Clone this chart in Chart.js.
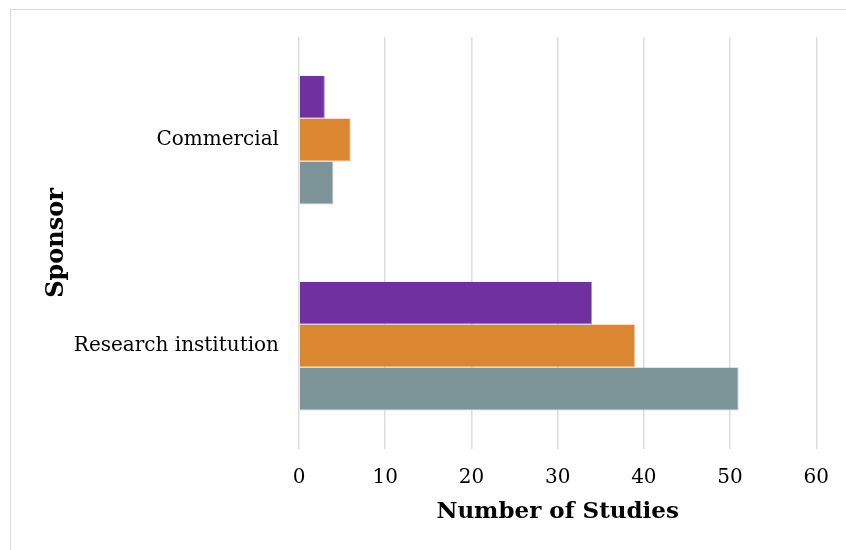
<!DOCTYPE html>
<html>
<head>
<meta charset="utf-8">
<script src="https://cdn.jsdelivr.net/npm/chart.js@4"></script>
<style>
  html, body { margin: 0; padding: 0; background: #fff; }
  #wrap { position: relative; width: 846px; height: 550px; overflow: hidden; }
  #frame { position: absolute; left: 10px; top: 9px; width: 860px; height: 560px; border: 1px solid #d9d9d9; }
  canvas { position: absolute; left: 0; top: 0; }
</style>
</head>
<body>
<div id="wrap">
  <div id="frame"></div>
  <canvas id="sponsorChart" width="846" height="550"></canvas>
</div>
<script>
// data kategori dan nilai per seri
const categories = ['Commercial', 'Research institution'];
const series1 = [3, 34];
const series2 = [6, 39];
const series3 = [4, 51];
const xTicks = [0, 10, 20, 30, 40, 50, 60];

const fontFamily = '"DejaVu Serif", "Liberation Serif", serif';

const ctx = document.getElementById('sponsorChart').getContext('2d');
new Chart(ctx, {
  type: 'bar',
  data: {
    labels: categories,
    datasets: [
      { label: 'Series 1', data: series1, backgroundColor: '#7030A0', borderColor: '#b48fd0', borderWidth: { right: 1, bottom: 1 } },
      { label: 'Series 2', data: series2, backgroundColor: '#DB8631', borderColor: '#efc39a', borderWidth: { right: 1, bottom: 1 } },
      { label: 'Series 3', data: series3, backgroundColor: '#7C9498', borderColor: '#c4d0d2', borderWidth: { right: 1, bottom: 1 } },
    ],
  },
  options: {
    indexAxis: 'y',
    responsive: false,
    animation: false,
    layout: { padding: { top: 37, right: 29, left: 0, bottom: 0 } },
    datasets: {
      bar: { categoryPercentage: 0.625, barPercentage: 1 },
    },
    plugins: {
      legend: { display: false },
      tooltip: { enabled: false },
    },
    scales: {
      x: {
        min: 0,
        max: 60,
        afterBuildTicks: (scale) => {
          scale.ticks = xTicks.map((v) => ({ value: v }));
        },
        afterFit: (scale) => { scale.height = 101; },
        grid: { color: '#dedede', lineWidth: 1.5, drawTicks: false },
        border: { display: false },
        ticks: { color: '#000', padding: 17, font: { family: fontFamily, size: 20 } },
        title: {
          display: true,
          text: 'Number of Studies',
          color: '#000',
          padding: { top: 0, bottom: 24 },
          font: { family: fontFamily, size: 23, weight: 'bold' },
        },
      },
      y: {
        afterFit: (scale) => { scale.width = 299; },
        grid: { display: false, drawTicks: false },
        border: { display: false },
        ticks: { color: '#000', padding: 20, font: { family: fontFamily, size: 20 } },
        title: {
          display: true,
          text: 'Sponsor',
          color: '#000',
          padding: { top: 42, bottom: 0 },
          font: { family: fontFamily, size: 24, weight: 'bold' },
        },
      },
    },
  },
});
</script>
</body>
</html>
